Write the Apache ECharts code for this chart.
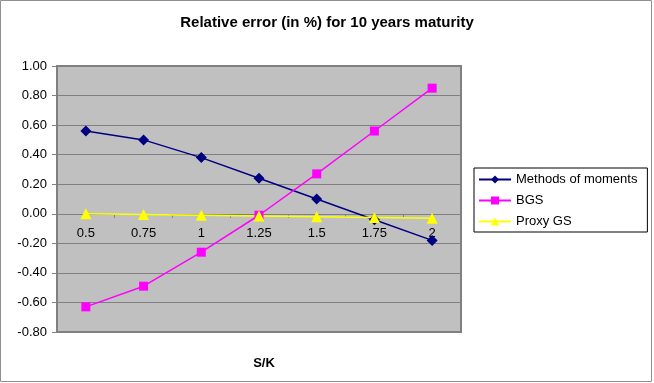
<!DOCTYPE html>
<html>
<head>
<meta charset="utf-8">
<script src="https://cdn.jsdelivr.net/npm/echarts@6/dist/echarts.min.js"></script>
<style>
  html, body { margin: 0; padding: 0; background: #fff; }
  #main { width: 654px; height: 383px; }
</style>
</head>
<body>
<div id="main"></div>
<script>
var categories = ['0.5', '0.75', '1', '1.25', '1.5', '1.75', '2'];
var momentsData = [0.56, 0.50, 0.38, 0.24, 0.10, -0.04, -0.18];
var bgsData = [-0.63, -0.49, -0.26, -0.01, 0.27, 0.56, 0.85];
var proxyData = [0.00, -0.005, -0.01, -0.015, -0.02, -0.025, -0.03];
var seriesNames = ['Methods of moments', 'BGS', 'Proxy GS'];

var myChart = echarts.init(document.getElementById('main'));
var font = 'Liberation Sans, Arial, sans-serif';

// grid box, the category axis sits on y = 0
var gridTop = 66, gridBottom = 51, yMin = -0.8, yMax = 1.0;
var gridH = 383 - gridTop - gridBottom;
var zeroOffset = -Math.round(gridH * (0 - yMin) / (yMax - yMin));

// line + marker helper
function lineSeries(name, data, color, symbol, size) {
    return {
        name: name,
        type: 'line',
        data: data,
        symbol: symbol,
        symbolSize: size,
        showAllSymbol: true,
        animation: false,
        lineStyle: { color: color, width: 1.5 },
        itemStyle: { color: color }
    };
}

var option = {
    backgroundColor: '#fff',
    animation: false,
    title: [{
        text: 'Relative error (in %) for 10 years maturity',
        left: 322,
        textAlign: 'center',
        top: 10,
        textStyle: { fontFamily: font, fontSize: 15, fontWeight: 'bold', color: '#000' }
    }, {
        text: 'S/K',
        left: 259,
        textAlign: 'center',
        top: 352,
        textStyle: { fontFamily: font, fontSize: 13, fontWeight: 'bold', color: '#000' }
    }],
    legend: {
        orient: 'vertical',
        left: 474,
        top: 168,
        padding: [5, 10, 4, 4],
        itemWidth: 32,
        itemHeight: 10,
        itemGap: 8,
        borderColor: '#000',
        borderWidth: 1,
        backgroundColor: '#fff',
        data: seriesNames,
        textStyle: { fontFamily: font, fontSize: 13, color: '#000' }
    },
    grid: {
        left: 57,
        right: 193,
        top: gridTop,
        bottom: gridBottom,
        show: true,
        backgroundColor: '#C0C0C0',
        borderColor: '#808080',
        borderWidth: 2
    },
    xAxis: {
        type: 'category',
        data: categories,
        boundaryGap: true,
        offset: zeroOffset,
        axisLine: { onZero: false, lineStyle: { color: '#808080', width: 1 } },
        axisTick: { show: true, length: 4, lineStyle: { color: '#808080' } },
        axisLabel: { fontFamily: font, fontSize: 13, color: '#000', margin: 13 },
        splitLine: { show: false }
    },
    yAxis: {
        type: 'value',
        min: yMin,
        max: yMax,
        interval: 0.2,
        axisLine: { show: false },
        axisTick: { show: true, length: 5, lineStyle: { color: '#808080' } },
        axisLabel: {
            fontFamily: font, fontSize: 13, color: '#000', margin: 10,
            formatter: function (v) { return v.toFixed(2); }
        },
        splitLine: { show: true, lineStyle: { color: '#808080', width: 1 } }
    },
    graphic: [{
        type: 'rect',
        shape: { x: 0.5, y: 0.5, width: 651, height: 381 },
        style: { fill: null, stroke: '#909090', lineWidth: 1 },
        silent: true
    }],
    series: [
        lineSeries(seriesNames[0], momentsData, '#000080', 'diamond', 11),
        lineSeries(seriesNames[1], bgsData, '#FF00FF', 'rect', 9),
        lineSeries(seriesNames[2], proxyData, '#FFFF00', 'triangle', 11)
    ]
};

myChart.setOption(option);
</script>
</body>
</html>
